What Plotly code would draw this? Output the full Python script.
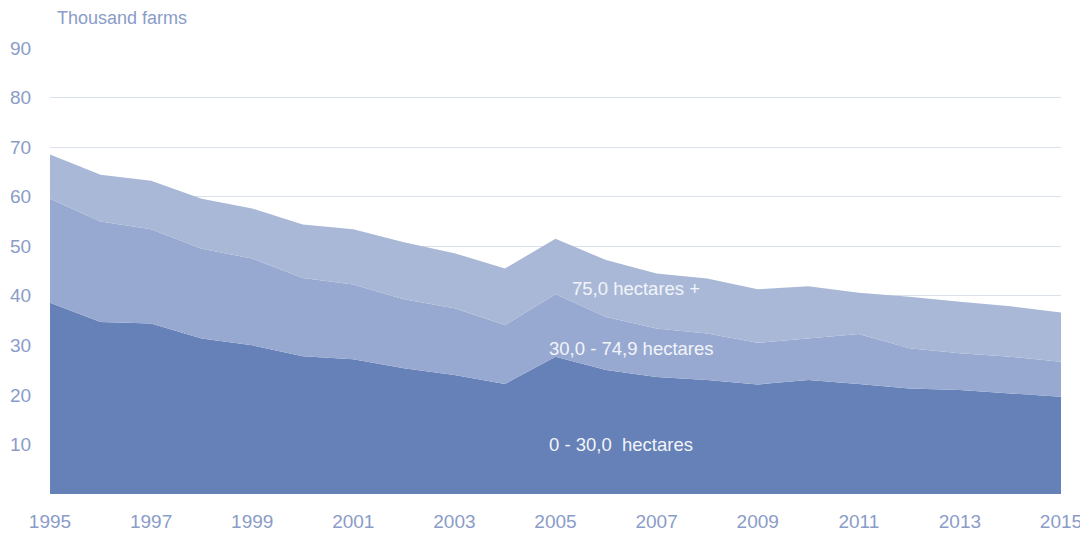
import plotly.graph_objects as go

years = list(range(1995, 2016))
small = [38.6, 34.7, 34.4, 31.4, 30.0, 27.8, 27.2, 25.4, 24.0, 22.2, 27.7,
         25.0, 23.6, 23.0, 22.1, 23.0, 22.2, 21.3, 21.0, 20.3, 19.6]
medium = [21.0, 20.3, 19.0, 18.1, 17.5, 15.8, 15.1, 13.9, 13.5, 11.9, 12.6,
          10.7, 9.8, 9.4, 8.4, 8.4, 10.1, 8.1, 7.4, 7.4, 7.1]
large = [8.9, 9.4, 9.8, 10.1, 10.1, 10.8, 11.1, 11.5, 11.1, 11.4, 11.2,
         11.5, 11.1, 11.1, 10.8, 10.5, 8.3, 10.4, 10.4, 10.2, 9.9]
series_names = ["0 - 30,0  hectares", "30,0 - 74,9 hectares", "75,0 hectares +"]
tick_years = list(range(1995, 2016, 2))
y_ticks = [10, 20, 30, 40, 50, 60, 70, 80, 90]

colors = ["#6681b7", "#97a9d0", "#a9b8d7"]
text_col = "#8a9cc8"
font_family = "Liberation Sans, Arial, sans-serif"

fig = go.Figure()
for name, vals, col in zip(series_names, [small, medium, large], colors):
    fig.add_trace(go.Scatter(
        x=years, y=vals, name=name, mode="lines", stackgroup="one",
        line=dict(width=0, color=col), fillcolor=col, hoverinfo="x+y+name",
    ))

label_pos = [(2006.3, 9.9), (2006.5, 29.4), (2006.6, 41.5)]
for name, (lx, ly) in zip(series_names, label_pos):
    fig.add_annotation(x=lx, y=ly, text=name, showarrow=False,
                       font=dict(family=font_family, size=18.5, color="#f2f4fa"))

fig.add_annotation(xref="paper", yref="paper", x=0, y=1, xanchor="left",
                   yanchor="bottom", xshift=5, yshift=17, text="Thousand farms",
                   showarrow=False,
                   font=dict(family=font_family, size=18, color=text_col))

# page body has an 8px default margin, so the figure is sized to fit the window
fig.update_layout(
    width=1080, height=527,
    margin=dict(l=42, r=27, t=39, b=41),
    paper_bgcolor="white", plot_bgcolor="white",
    showlegend=False,
    font=dict(family=font_family, color=text_col),
    xaxis=dict(range=[1995, 2015], tickvals=tick_years, showgrid=False,
               zeroline=False, showline=False, ticks="outside", ticklen=10,
               tickcolor="rgba(0,0,0,0)", automargin=False,
               tickfont=dict(size=19, color=text_col)),
    yaxis=dict(range=[0, 90.2], tickvals=y_ticks, showgrid=True, gridcolor="#dbe0ee",
               gridwidth=1.2, zeroline=False, showline=False, ticks="outside",
               ticklen=14, tickcolor="rgba(0,0,0,0)", automargin=False,
               tickfont=dict(size=19, color=text_col)),
)

fig.write_html("out.html")
